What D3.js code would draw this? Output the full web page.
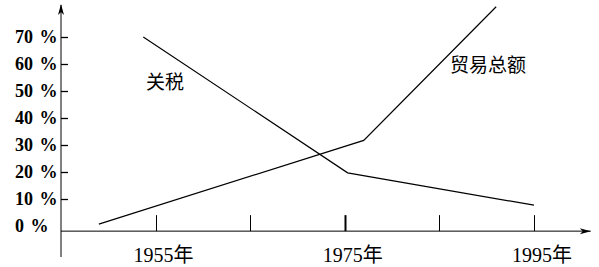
<!DOCTYPE html>
<html>
<head>
<meta charset="utf-8">
<script src="https://cdn.jsdelivr.net/npm/d3@7"></script>
<style>
  html, body { margin: 0; padding: 0; background: #fff; }
  svg { display: block; }
</style>
</head>
<body>
<svg id="chart" width="599" height="267"></svg>
<script>
// ---- data ----
const yTickValues = [10, 20, 30, 40, 50, 60, 70];
const yLabelValues = [0, 10, 20, 30, 40, 50, 60, 70];
const xTickYears = [1955, 1965, 1975, 1985, 1995];
const xLabelYears = [1955, 1975, 1995];
const tariffYears = [1953.7, 1975.3, 1995];
const tariffValues = [70, 19.7, 7.7];
const tradeYears = [1949, 1977, 1991];
const tradeValues = [0.7, 31.7, 81.2];
const seriesLabels = ["关税", "贸易总额"];

// ---- scales ----
const svg = d3.select("#chart");
const x = d3.scaleLinear().domain([1945, 1995]).range([61, 534]);
const y = d3.scaleLinear().domain([0, 70]).range([226, 37]);
const x0 = x(1945);
const axisY = y(-1.9);

const g = svg.append("g");

// axes
g.append("line").attr("x1", x0).attr("x2", x0).attr("y1", 5).attr("y2", 257)
  .attr("stroke", "#000").attr("stroke-width", 1);
g.append("line").attr("x1", x0).attr("x2", x(2001)).attr("y1", axisY).attr("y2", axisY)
  .attr("stroke", "#000").attr("stroke-width", 1);

// arrow heads
g.append("path")
  .attr("d", `M${x0},4 L${x0 - 3},15 L${x0},12 L${x0 + 3},15 Z`)
  .attr("fill", "#000");
const xe = x(2001);
g.append("path")
  .attr("d", `M${xe},${axisY} L${xe - 11},${axisY - 3} L${xe - 8},${axisY} L${xe - 11},${axisY + 3} Z`)
  .attr("fill", "#000");

// y ticks
g.selectAll(".ytick").data(yTickValues).enter().append("line")
  .attr("x1", x0).attr("x2", x0 + 7)
  .attr("y1", d => Math.round(y(d)) + 0.5).attr("y2", d => Math.round(y(d)) + 0.5)
  .attr("stroke", "#000").attr("stroke-width", 1.3);

// y labels
g.selectAll(".ylab").data(yLabelValues).enter().append("text")
  .attr("x", 15).attr("y", d => y(d) + 6)
  .attr("font-family", "'Liberation Serif', serif")
  .attr("font-size", 18).attr("font-weight", "bold")
  .attr("word-spacing", 2)
  .attr("fill", "#000")
  .text(d => d + " %");

// x ticks
g.selectAll(".xtick").data(xTickYears).enter().append("line")
  .attr("x1", d => Math.round(x(d)) + 0.5).attr("x2", d => Math.round(x(d)) + 0.5)
  .attr("y1", axisY).attr("y2", axisY - 16)
  .attr("stroke", "#000").attr("stroke-width", d => d === 1975 ? 2 : 1);

// x labels
g.selectAll(".xlab").data(xLabelYears).enter().append("text")
  .attr("x", d => x(d) - 22).attr("y", 262)
  .attr("font-family", "'Liberation Serif', 'Noto Sans CJK SC', serif")
  .attr("font-size", 20)
  .attr("fill", "#000")
  .text(d => d + "年");

// lines
const line = d3.line().x(d => x(d[0])).y(d => y(d[1]));
g.append("path")
  .datum(d3.zip(tariffYears, tariffValues))
  .attr("d", line).attr("fill", "none").attr("stroke", "#000").attr("stroke-width", 1.2);
g.append("path")
  .datum(d3.zip(tradeYears, tradeValues))
  .attr("d", line).attr("fill", "none").attr("stroke", "#000").attr("stroke-width", 1.2);

// series labels
g.append("text").attr("x", 146).attr("y", 80)
  .attr("dominant-baseline", "central")
  .attr("font-family", "'Noto Sans CJK SC', sans-serif")
  .attr("font-size", 19).attr("fill", "#000")
  .text(seriesLabels[0]);
g.append("text").attr("x", 450).attr("y", 63)
  .attr("dominant-baseline", "central")
  .attr("font-family", "'Noto Sans CJK SC', sans-serif")
  .attr("font-size", 19).attr("fill", "#000")
  .text(seriesLabels[1]);
</script>
</body>
</html>
